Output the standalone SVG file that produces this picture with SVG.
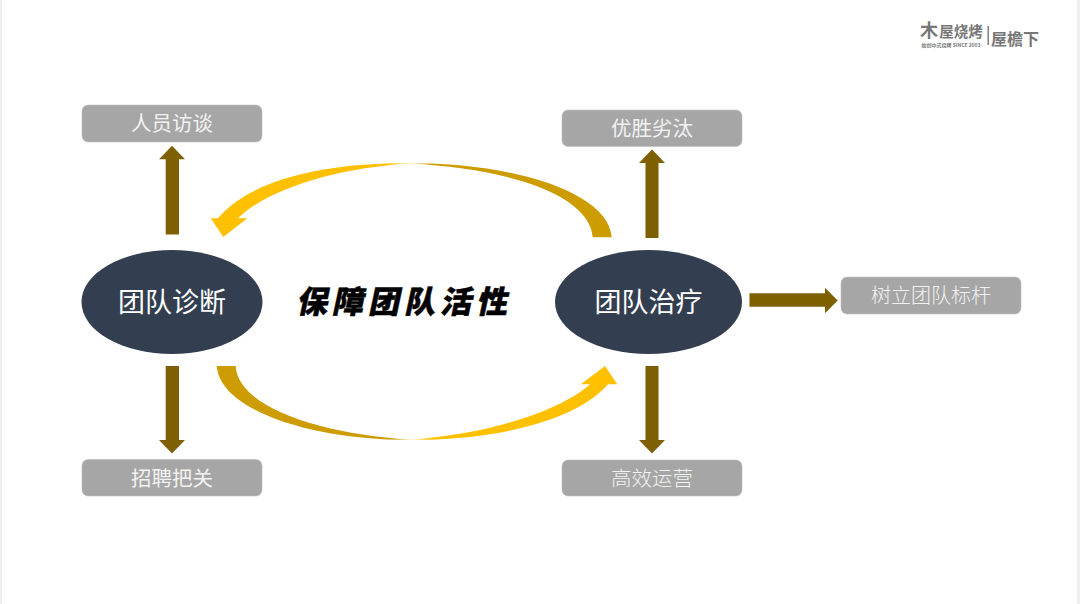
<svg xmlns="http://www.w3.org/2000/svg" width="1080" height="604" viewBox="0 0 1080 604">
<style>
text{font-family:"Noto Sans CJK SC","Noto Sans",sans-serif;text-anchor:middle}
.box{fill:#a6a6a6;stroke:#bfbfbf;stroke-width:.6}
.bt{font-size:20.5px;fill:#f2f2f2;font-weight:400}
.ell{fill:#333f50}
.et{font-size:27px;fill:#fff;font-weight:400}
.ar{fill:#7f6000}
.logo{fill:#777;font-weight:700}
</style>
<defs>
<linearGradient id="gt" gradientUnits="userSpaceOnUse" x1="210" y1="0" x2="612" y2="0">
<stop offset="0" stop-color="#ffc000"/><stop offset=".44" stop-color="#ffc000"/><stop offset=".5" stop-color="#fff2cc"/><stop offset=".55" stop-color="#cc9c00"/><stop offset="1" stop-color="#cc9c00"/>
</linearGradient>
<linearGradient id="gb" gradientUnits="userSpaceOnUse" x1="216" y1="0" x2="618" y2="0">
<stop offset="0" stop-color="#cc9c00"/><stop offset=".44" stop-color="#cc9c00"/><stop offset=".49" stop-color="#fff2cc"/><stop offset=".54" stop-color="#ffc000"/><stop offset="1" stop-color="#ffc000"/>
</linearGradient>
</defs>
<rect width="1080" height="604" fill="#efefef"/>
<rect x="2" y="0" width="1075" height="604" fill="#fff"/>
<g id="connectors">
<path id="arc-top" fill="url(#gt)" d="M611.700 237.300C609 193 515 163 410 163C322 163 250 180 218 218.300H210.700L223.300 237L247.300 218.300H238C268 189 335 168 410 163.400C505 168 590 194 592.700 237.300Z"/>
<path id="arc-bottom" fill="url(#gb)" d="M216.700 366C220 410 310 440 410 440C495 440 575 422 608 384.300H617.300L605 366L580.700 384.300H590C560 411 490 434 410 439.600C322 434 238 408 235.700 366Z"/>
<path class="ar" d="M165.700 234.500V159.300H159L172 145.700L185 159.300H179V234.500Z"/>
<path class="ar" d="M645.500 238V163H639L652 149.500L665 163H658.500V238Z"/>
<path class="ar" d="M165.700 366V440H159L172 453.500L185 440H179V366Z"/>
<path class="ar" d="M645.500 366V440H639L652 453.500L665 440H658.500V366Z"/>
<path class="ar" d="M749.500 293.300H825V287.700L837.700 300.500L825 313.300V306.700H749.500Z"/>
</g>
<g id="n-diagnose"><ellipse class="ell" cx="172" cy="302" rx="90.500" ry="52"/><text class="et" x="172" y="311.500">团队诊断</text></g>
<g id="n-treat"><ellipse class="ell" cx="648.500" cy="302" rx="93.500" ry="52"/><text class="et" x="648.500" y="311.500">团队治疗</text></g>
<g id="n-interview"><rect class="box" x="82" y="105" width="180" height="37" rx="6"/><text class="bt" x="172" y="130.500">人员访谈</text></g>
<g id="n-elim"><rect class="box" x="562" y="110" width="180" height="36.500" rx="6"/><text class="bt" x="652" y="135.500">优胜劣汰</text></g>
<g id="n-hire"><rect class="box" x="82" y="459.500" width="180" height="36.500" rx="6"/><text class="bt" x="172" y="485.500">招聘把关</text></g>
<g id="n-ops"><rect class="box" x="562" y="460" width="180" height="36" rx="6"/><text class="bt" x="652" y="485.500" style="font-weight:300">高效运营</text></g>
<g id="n-bench"><rect class="box" x="841" y="277" width="180" height="37" rx="6"/><text class="bt" x="931" y="303" style="font-size:20px;font-weight:300">树立团队标杆</text></g>
<text id="title" transform="translate(404 312.500) skewX(-12)" font-size="31" font-weight="900" letter-spacing="5" fill="#000" style="stroke:#000;stroke-width:.5">保障团队活性</text>
<g id="logo">
<text class="logo" x="929" y="37" font-size="18" font-weight="500">木</text>
<text class="logo" x="961" y="37" font-size="14.500">屋烧烤</text>
<text class="logo" x="951" y="46.500" font-size="5" font-weight="400">始创中式烧烤 SINCE 2003</text>
<rect x="987.500" y="26" width="1.400" height="19" fill="#777"/>
<text class="logo" x="1015" y="44.500" font-size="16">屋檐下</text>
</g>
</svg>
